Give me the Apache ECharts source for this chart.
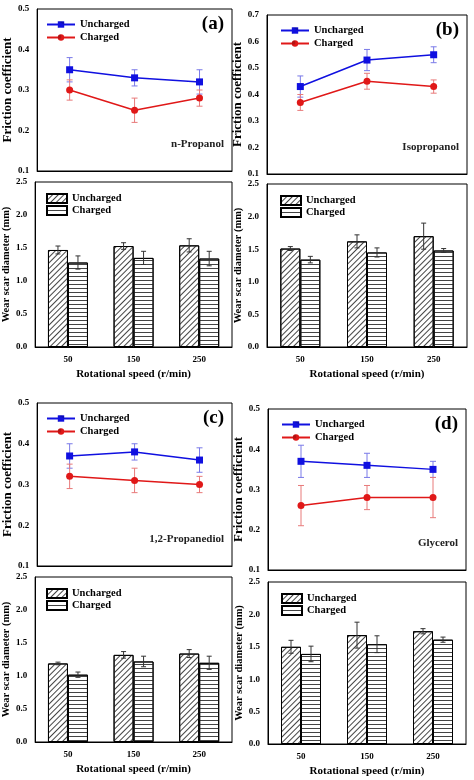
<!DOCTYPE html>
<html><head><meta charset="utf-8">
<script src="https://cdn.jsdelivr.net/npm/echarts@6/dist/echarts.min.js"></script>
<style>html,body{margin:0;padding:0;background:#fff}#c{width:474px;height:780px}</style>
</head><body><div id="c"></div>
<script>
const categories = ['50','150','250'];
// friction coefficient: value, error
const fricU_a=[0.35,0.33,0.32], fricUe_a=[0.03,0.02,0.03];
const fricC_a=[0.30,0.25,0.28], fricCe_a=[0.025,0.03,0.02];
const fricU_b=[0.43,0.53,0.55], fricUe_b=[0.04,0.04,0.03];
const fricC_b=[0.37,0.45,0.43], fricCe_b=[0.03,0.03,0.025];
const fricU_c=[0.37,0.38,0.36], fricUe_c=[0.03,0.02,0.03];
const fricC_c=[0.32,0.31,0.30], fricCe_c=[0.03,0.03,0.02];
const fricU_d=[0.37,0.36,0.35], fricUe_d=[0.04,0.03,0.02];
const fricC_d=[0.26,0.28,0.28], fricCe_d=[0.05,0.03,0.05];
// wear scar diameter: value, error
const wearU_a=[1.47,1.53,1.54], wearUe_a=[0.06,0.05,0.10];
const wearC_a=[1.28,1.35,1.34], wearCe_a=[0.10,0.10,0.11];
const wearU_b=[1.51,1.62,1.70], wearUe_b=[0.03,0.10,0.20];
const wearC_b=[1.34,1.45,1.48], wearCe_b=[0.05,0.07,0.03];
const wearU_c=[1.19,1.32,1.34], wearUe_c=[0.02,0.05,0.06];
const wearC_c=[1.02,1.22,1.20], wearCe_c=[0.04,0.08,0.10];
const wearU_d=[1.50,1.68,1.74], wearUe_d=[0.10,0.20,0.04];
const wearC_d=[1.39,1.54,1.61], wearCe_d=[0.12,0.13,0.04];
const fricRanges={a:[0.1,0.5],b:[0.1,0.7],c:[0.1,0.5],d:[0.1,0.5]};
const fluids={a:'n-Propanol',b:'Isopropanol',c:'1,2-Propanediol',d:'Glycerol'};

const FONT='Liberation Serif';
const P={
 a:{l:33,r:232,t1:9,b1:171,t2:182,b2:347},
 b:{l:267,r:467,t1:15,b1:174,t2:184,b2:347},
 c:{l:33,r:232,t1:403,b1:566,t2:577,b2:742},
 d:{l:268,r:466,t1:409,b1:570,t2:582,b2:744}
};
const D={
 a:[fricU_a,fricUe_a,fricC_a,fricCe_a,wearU_a,wearUe_a,wearC_a,wearCe_a],
 b:[fricU_b,fricUe_b,fricC_b,fricCe_b,wearU_b,wearUe_b,wearC_b,wearCe_b],
 c:[fricU_c,fricUe_c,fricC_c,fricCe_c,wearU_c,wearUe_c,wearC_c,wearCe_c],
 d:[fricU_d,fricUe_d,fricC_d,fricCe_d,wearU_d,wearUe_d,wearC_d,wearCe_d]
};
const grid=[],xAxis=[],yAxis=[],series=[],legend=[],graphic=[];
function errData(v,e){return v.map((x,i)=>[i,x,x-e[i],x+e[i]]);}
function errSeries(gi,v,e,color,offset,cap){
 return {type:'custom',xAxisIndex:gi,yAxisIndex:gi,z:5,data:errData(v,e),
  renderItem:(params,api)=>{
   const c=api.coord([api.value(0),api.value(1)]);
   const lo=api.coord([api.value(0),api.value(2)]);
   const hi=api.coord([api.value(0),api.value(3)]);
   const x=c[0]+offset;
   const st={stroke:color,lineWidth:1};
   return {type:'group',children:[
    {type:'line',shape:{x1:x,y1:lo[1],x2:x,y2:hi[1]},style:st},
    {type:'line',shape:{x1:x-cap,y1:lo[1],x2:x+cap,y2:lo[1]},style:st},
    {type:'line',shape:{x1:x-cap,y1:hi[1],x2:x+cap,y2:hi[1]},style:st}]};
  }};
}
const axLine={lineStyle:{color:'#000',width:1}};
const lbl={fontFamily:FONT,fontWeight:'bold',fontSize:9,color:'#000'};
['a','b','c','d'].forEach((k,pi)=>{
 const p=P[k],d=D[k];
 const g1=pi*2,g2=pi*2+1;
 grid.push({left:p.l,width:p.r-p.l,top:p.t1,height:p.b1-p.t1,show:true,borderColor:'#000',borderWidth:1});
 grid.push({left:p.l,width:p.r-p.l,top:p.t2,height:p.b2-p.t2,show:true,borderColor:'#000',borderWidth:1});
 xAxis.push({gridIndex:g1,type:'category',data:categories,axisLine:axLine,axisTick:{inside:true,alignWithLabel:true,lineStyle:{color:'#000'}},axisLabel:{show:false}});
 xAxis.push({gridIndex:g2,type:'category',data:categories,axisLine:axLine,axisTick:{alignWithLabel:true,lineStyle:{color:'#000'}},axisLabel:lbl,
  name:'Rotational speed (r/min)',nameLocation:'middle',nameGap:22,nameTextStyle:{fontFamily:FONT,fontWeight:'bold',fontSize:11,color:'#000'}});
 const fr=fricRanges[k];
 yAxis.push({gridIndex:g1,type:'value',min:fr[0],max:fr[1],interval:0.1,splitLine:{show:false},axisLine:{show:true,...axLine},axisTick:{inside:true,lineStyle:{color:'#000'}},
  axisLabel:{...lbl,formatter:v=>v.toFixed(1)},name:'Friction coefficient',nameLocation:'middle',nameGap:22,nameTextStyle:{fontFamily:FONT,fontWeight:'bold',fontSize:13,color:'#000'}});
 yAxis.push({gridIndex:g2,type:'value',min:0,max:2.5,interval:0.5,splitLine:{show:false},axisLine:{show:true,...axLine},axisTick:{inside:true,lineStyle:{color:'#000'}},
  axisLabel:{...lbl,formatter:v=>v.toFixed(1)},name:'Wear scar diameter (mm)',nameLocation:'middle',nameGap:22,nameTextStyle:{fontFamily:FONT,fontWeight:'bold',fontSize:10.5,color:'#000'}});
 const nU='Uncharged',nC='Charged';
 series.push({name:nU,type:'line',xAxisIndex:g1,yAxisIndex:g1,data:d[0],symbol:'rect',symbolSize:7,color:'#1010e0',lineStyle:{width:1.5},z:6});
 series.push({name:nC,type:'line',xAxisIndex:g1,yAxisIndex:g1,data:d[2],symbol:'circle',symbolSize:7,color:'#e01818',lineStyle:{width:1.5},z:6});
 series.push(errSeries(g1,d[0],d[1],'#7a7ae8',0,3));
 series.push(errSeries(g1,d[2],d[3],'#e87a7a',0,3));
 const bw=20;
 series.push({name:nU+' ',type:'bar',xAxisIndex:g2,yAxisIndex:g2,data:d[4],barWidth:bw,barGap:'0%',
  itemStyle:{color:'#fff',borderColor:'#000',borderWidth:1,decal:{symbol:'rect',symbolSize:1,dashArrayX:[1,0],dashArrayY:[1,2.5],rotation:-Math.PI/4,color:'#444'}}});
 series.push({name:nC+' ',type:'bar',xAxisIndex:g2,yAxisIndex:g2,data:d[6],barWidth:bw,
  itemStyle:{color:'#fff',borderColor:'#000',borderWidth:1,decal:{symbol:'rect',symbolSize:1,dashArrayX:[1,0],dashArrayY:[1,2.5],color:'#444'}}});
 series.push(errSeries(g2,d[4],d[5],'#333',-bw/2,2.5));
 series.push(errSeries(g2,d[6],d[7],'#333',bw/2,2.5));
 const lt={fontFamily:FONT,fontWeight:'bold',fontSize:10.5,color:'#000'};
 legend.push({data:[nU,nC],left:p.l+8,top:p.t1+5,orient:'vertical',itemGap:2,itemWidth:28,itemHeight:8,textStyle:lt});
 legend.push({data:[nU+' ',nC+' '],left:p.l+8,top:p.t2+6,orient:'vertical',itemGap:1,itemWidth:20,itemHeight:9,icon:'rect',textStyle:lt});
 graphic.push({type:'text',right:474-p.r+8,top:p.t1+6,style:{text:'('+k+')',font:'bold 19px "'+FONT+'"',fill:'#000'}});
 graphic.push({type:'text',right:474-p.r+8,top:p.b1-32,style:{text:fluids[k],font:'bold 11px "'+FONT+'"',fill:'#222'}});
});
const chart=echarts.init(document.getElementById('c'));
chart.setOption({animation:false,aria:{decal:{show:true}},grid,xAxis,yAxis,series,legend,graphic});
</script></body></html>
